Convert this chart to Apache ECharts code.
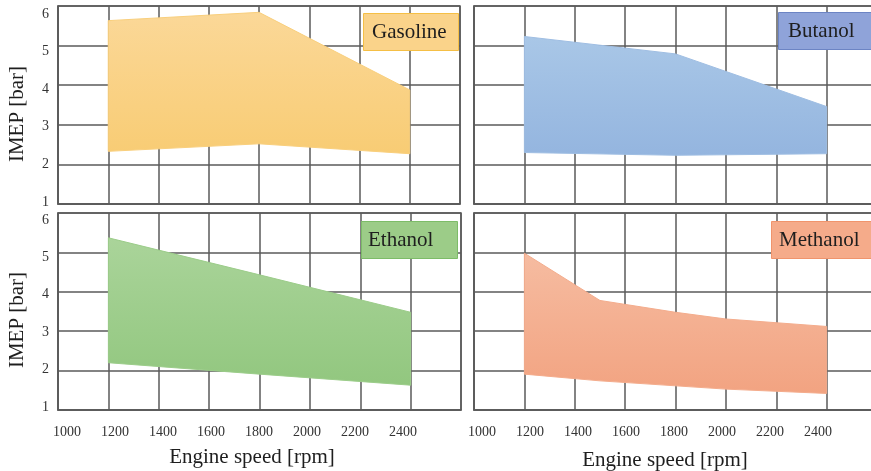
<!DOCTYPE html>
<html>
<head>
<meta charset="utf-8">
<script src="https://cdn.jsdelivr.net/npm/echarts@6/dist/echarts.min.js"></script>
<style>html,body{margin:0;padding:0;background:#fff}#c{width:871px;height:471px}</style>
</head>
<body>
<div id="c"></div>
<script>
// ---- data ----
const fuels = ['Gasoline', 'Butanol', 'Ethanol', 'Methanol'];
const speedTicks = [1000, 1200, 1400, 1600, 1800, 2000, 2200, 2400];
const imepTicks = [1, 2, 3, 4, 5, 6];
const xTitle = 'Engine speed [rpm]';
const yTitle = 'IMEP [bar]';

const gasolineUpperSpeed = [1200, 1800, 2400];
const gasolineUpperImep  = [5.63, 5.84, 3.88];
const gasolineLowerSpeed = [1200, 1800, 2400];
const gasolineLowerImep  = [2.33, 2.52, 2.27];

const butanolUpperSpeed = [1200, 1800, 2400];
const butanolUpperImep  = [5.23, 4.79, 3.46];
const butanolLowerSpeed = [1200, 1800, 2400];
const butanolLowerImep  = [2.30, 2.23, 2.27];

const ethanolUpperSpeed = [1200, 1800, 2400];
const ethanolUpperImep  = [5.37, 4.43, 3.48];
const ethanolLowerSpeed = [1200, 1800, 2400];
const ethanolLowerImep  = [2.20, 1.91, 1.63];

const methanolUpperSpeed = [1200, 1500, 1800, 2000, 2400];
const methanolUpperImep  = [4.98, 3.78, 3.48, 3.31, 3.12];
const methanolLowerSpeed = [1200, 1500, 2000, 2400];
const methanolLowerImep  = [1.91, 1.74, 1.53, 1.42];

const bands = [
  [gasolineUpperSpeed, gasolineUpperImep, gasolineLowerSpeed, gasolineLowerImep],
  [butanolUpperSpeed, butanolUpperImep, butanolLowerSpeed, butanolLowerImep],
  [ethanolUpperSpeed, ethanolUpperImep, ethanolLowerSpeed, ethanolLowerImep],
  [methanolUpperSpeed, methanolUpperImep, methanolLowerSpeed, methanolLowerImep]
];

// ---- styles ----
const fillTop    = ['#FBD898', '#A9C7E7', '#AAD49A', '#F6BCA1'];
const fillBottom = ['#F8CC74', '#94B5DF', '#92C77F', '#F2A381'];
const edge       = ['#F9CF7C', '#9FBEE3', '#9CCD8A', '#F4AC8C'];
const boxFill    = ['#FAD38A', '#8FA3D9', '#9CCC88', '#F5AB8A'];
const boxBorder  = ['#F5BF45', '#6C84C4', '#7DBC68', '#F0946C'];

const plotGrids = [
  {left: 58, top: 6, width: 402, height: 198},
  {left: 474, top: 6, width: 403, height: 198},
  {left: 58, top: 213, width: 403, height: 197},
  {left: 474, top: 213, width: 403, height: 197}
];
// grids that only carry tick labels (labels in the source are slightly compressed)
const labelGrids = [
  {left: 67, top: 213, width: 336, height: 197, kind: 'x'},
  {left: 482, top: 213, width: 336, height: 197, kind: 'x'},
  {left: 58, top: 14, width: 402, height: 188, kind: 'y'},
  {left: 58, top: 220, width: 403, height: 187, kind: 'y'}
];
const boxPos = [
  {left: 363, top: 14, pad: [8, 12, 8, 9]},
  {left: 778, top: 13, pad: [8, 22, 8, 10]},
  {left: 361, top: 222, pad: [8, 24, 8, 7]},
  {left: 771, top: 222, pad: [8, 22, 8, 8]}
];

const gridColor = '#5a5a5a';
const serif = '"Liberation Serif", "DejaVu Serif", serif';
const labelStyle = {fontFamily: serif, fontSize: 14, color: '#333', formatter: v => String(v)};

const chart = echarts.init(document.getElementById('c'));

const grids = plotGrids.map(g => Object.assign({show: true, borderColor: gridColor, borderWidth: 1.5,
  backgroundColor: 'transparent', outerBoundsMode: 'none', containLabel: false}, g))
  .concat(labelGrids.map(g => ({left: g.left, top: g.top, width: g.width, height: g.height,
  show: false, outerBoundsMode: 'none', containLabel: false})));

const xAxes = plotGrids.map((g, i) => ({
  type: 'value', gridIndex: i,
  min: 1000, max: 2600, interval: 200,
  axisLine: {show: true, lineStyle: {color: gridColor, width: 1.5}},
  axisTick: {show: false},
  splitLine: {show: true, lineStyle: {color: gridColor, width: 1.5}},
  axisLabel: {show: false}
})).concat(labelGrids.map((g, j) => ({
  type: 'value', gridIndex: 4 + j,
  show: g.kind === 'x',
  min: speedTicks[0], max: speedTicks[speedTicks.length - 1], interval: 200,
  axisLine: {show: false}, axisTick: {show: false}, splitLine: {show: false},
  axisLabel: Object.assign({show: g.kind === 'x', margin: 15, showMinLabel: true, showMaxLabel: true}, labelStyle)
})));

const yAxes = plotGrids.map((g, i) => ({
  type: 'value', gridIndex: i,
  min: 1, max: 6, interval: 1,
  axisLine: {show: true, lineStyle: {color: gridColor, width: 1.5}},
  axisTick: {show: false},
  splitLine: {show: true, lineStyle: {color: gridColor, width: 1.5}},
  axisLabel: {show: false}
})).concat(labelGrids.map((g, j) => ({
  type: 'value', gridIndex: 4 + j,
  show: g.kind === 'y',
  min: imepTicks[0], max: imepTicks[imepTicks.length - 1], interval: 1,
  axisLine: {show: false}, axisTick: {show: false}, splitLine: {show: false},
  axisLabel: Object.assign({show: g.kind === 'y', margin: 9, showMinLabel: true, showMaxLabel: true}, labelStyle)
})));

const titleText = {fontFamily: serif, fontSize: 21, fill: '#1e1e1e'};

const option = {
  animation: false,
  backgroundColor: '#fff',
  title: fuels.map((f, i) => ({
    text: f,
    left: boxPos[i].left,
    top: boxPos[i].top,
    backgroundColor: boxFill[i],
    borderColor: boxBorder[i],
    borderWidth: 1,
    padding: boxPos[i].pad,
    textStyle: {fontFamily: serif, fontSize: 21, fontWeight: 'normal', color: '#1e1e1e', lineHeight: 20}
  })),
  grid: grids,
  xAxis: xAxes,
  yAxis: yAxes,
  graphic: [
    {type: 'text', x: 17, y: 114, rotation: Math.PI / 2,
      style: Object.assign({text: yTitle, align: 'center', verticalAlign: 'middle'}, titleText)},
    {type: 'text', x: 17, y: 320, rotation: Math.PI / 2,
      style: Object.assign({text: yTitle, align: 'center', verticalAlign: 'middle'}, titleText)},
    {type: 'text', x: 252, y: 457,
      style: Object.assign({text: xTitle, align: 'center', verticalAlign: 'middle'}, titleText)},
    {type: 'text', x: 665, y: 460,
      style: Object.assign({text: xTitle, align: 'center', verticalAlign: 'middle'}, titleText)}
  ],
  series: fuels.map((f, i) => ({
    type: 'custom', name: f,
    xAxisIndex: i, yAxisIndex: i,
    clip: false,
    data: [[bands[i][0][0], bands[i][1][0]]],
    renderItem: function (params, api) {
      const [ux, uy, lx, ly] = bands[i];
      const pts = [];
      for (let k = 0; k < ux.length; k++) pts.push(api.coord([ux[k], uy[k]]));
      for (let k = lx.length - 1; k >= 0; k--) pts.push(api.coord([lx[k], ly[k]]));
      return {
        type: 'polygon',
        shape: {points: pts},
        style: {
          fill: new echarts.graphic.LinearGradient(0, 0, 0, 1, [
            {offset: 0, color: fillTop[i]}, {offset: 1, color: fillBottom[i]}
          ]),
          stroke: edge[i], lineWidth: 1
        }
      };
    }
  }))
};
chart.setOption(option);
</script>
</body>
</html>
